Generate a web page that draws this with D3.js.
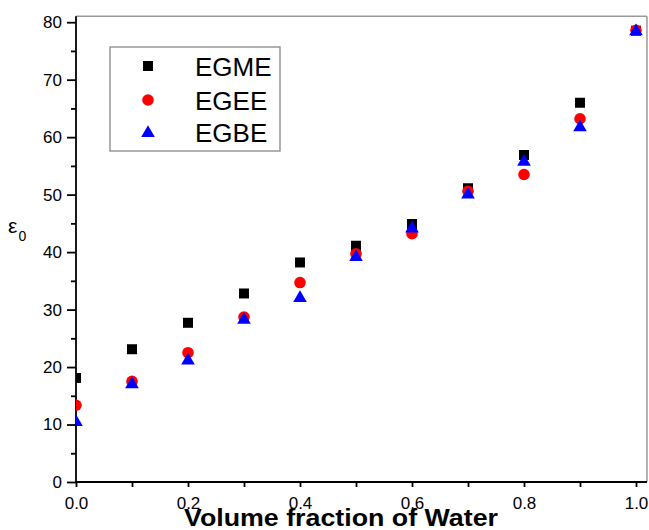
<!DOCTYPE html>
<html><head><meta charset="utf-8">
<script src="https://cdn.jsdelivr.net/npm/d3@7"></script>
<style>body{margin:0;background:#fff}svg{display:block}</style>
</head><body>
<svg id="c" width="649" height="530"></svg>
<script>
const fractions = [0, 0.1, 0.2, 0.3, 0.4, 0.5, 0.6, 0.7, 0.8, 0.9, 1.0];
const egme = [18.1, 23.1, 27.7, 32.8, 38.2, 41.1, 44.9, 51.1, 56.9, 66.0, 78.5];
const egee = [13.35, 17.5, 22.5, 28.7, 34.7, 39.7, 43.2, 50.6, 53.5, 63.2, 78.6];
const egbe = [10.6, 17.2, 21.3, 28.4, 32.2, 39.3, 44.3, 50.2, 55.9, 61.9, 78.6];
const xTicks = [0, 0.2, 0.4, 0.6, 0.8, 1.0];
const xMinor = [0.1, 0.3, 0.5, 0.7, 0.9];
const yTicks = [0, 10, 20, 30, 40, 50, 60, 70, 80];
const yMinor = [5, 15, 25, 35, 45, 55, 65, 75];
const seriesNames = ["EGME", "EGEE", "EGBE"];

const svg = d3.select("#c");
const x = d3.scaleLinear().domain([0, 1]).range([76, 636]);
const y = d3.scaleLinear().domain([0, 80]).range([482, 22.2]);
const xMax = 1.0196, yMax = 81.05;
const font = "'Liberation Sans', Arial, sans-serif";

svg.append("clipPath").attr("id","clip").append("rect")
  .attr("x", x(0)).attr("y", y(yMax)).attr("width", x(xMax)-x(0)).attr("height", y(0)-y(yMax));

svg.append("line").attr("x1", x(0)).attr("x2", x(xMax)).attr("y1", y(yMax)).attr("y2", y(yMax))
  .attr("stroke", "#999").attr("stroke-width", 1.5);
svg.append("line").attr("x1", x(xMax)).attr("x2", x(xMax)).attr("y1", y(yMax)).attr("y2", y(0))
  .attr("stroke", "#999").attr("stroke-width", 1.5);

function styleAxis(g){ g.selectAll("path,line").attr("stroke","#000").attr("stroke-width",1.8);
  g.selectAll("text").attr("fill","#000").style("font-family",font).style("font-size","17px"); }

const gy = svg.append("g").attr("transform", `translate(${x(0)},0)`)
  .call(d3.axisLeft(y).tickValues(yTicks).tickFormat(d3.format("d")).tickSize(9).tickPadding(5).tickSizeOuter(0));
gy.select(".domain").attr("d", `M0,${y(0)}V${y(yMax)}`);
styleAxis(gy);
const gym = svg.append("g").attr("transform", `translate(${x(0)},0)`)
  .call(d3.axisLeft(y).tickValues(yMinor).tickFormat("").tickSize(5).tickSizeOuter(0));
gym.select(".domain").remove();
styleAxis(gym);

const gx = svg.append("g").attr("transform", `translate(0,${y(0)})`)
  .call(d3.axisBottom(x).tickValues(xTicks).tickFormat(d3.format(".1f")).tickSize(5).tickPadding(10).tickSizeOuter(0));
gx.select(".domain").attr("d", `M${x(0)},0H${x(xMax)}`);
styleAxis(gx);
const gxm = svg.append("g").attr("transform", `translate(0,${y(0)})`)
  .call(d3.axisBottom(x).tickValues(xMinor).tickFormat("").tickSize(5).tickSizeOuter(0));
gxm.select(".domain").remove();
styleAxis(gxm);

const sq = d3.symbol().type(d3.symbolSquare).size(100);
const tri = "M0,-6.8L6.8,5L-6.8,5Z";
const plot = svg.append("g").attr("clip-path","url(#clip)");
function drawSeries(vals, kind){
  const g = plot.append("g");
  vals.forEach((v,i)=>{
    const t = `translate(${x(fractions[i])},${y(v)})`;
    if(kind===0) g.append("path").attr("d", sq()).attr("transform", t).attr("fill","#000");
    else if(kind===1) g.append("circle").attr("cx", x(fractions[i])).attr("cy", y(v)).attr("r",5.8).attr("fill","#ff0000");
    else g.append("path").attr("d", tri).attr("transform", t).attr("fill","#0000ff");
  });
}
drawSeries(egme,0); drawSeries(egee,1); drawSeries(egbe,2);

const lg = svg.append("g");
lg.append("rect").attr("x",110).attr("y",47).attr("width",170).attr("height",104)
  .attr("fill","#fff").attr("stroke","#888").attr("stroke-width",1.3);
const rows = [66, 100, 132];
seriesNames.forEach((n,i)=>{
  const t = `translate(148,${rows[i]})`;
  if(i===0) lg.append("path").attr("d", sq()).attr("transform", t).attr("fill","#000");
  else if(i===1) lg.append("circle").attr("cx",148).attr("cy",rows[i]).attr("r",5.8).attr("fill","#ff0000");
  else lg.append("path").attr("d", tri).attr("transform", t).attr("fill","#0000ff");
  lg.append("text").attr("x",195).attr("y",rows[i]+9.5).text(n)
    .style("font-family",font).style("font-size","26px").attr("fill","#000");
});

svg.append("text").attr("x",341).attr("y",526).attr("text-anchor","middle")
  .attr("textLength",314).attr("lengthAdjust","spacingAndGlyphs")
  .style("font-family",font).style("font-weight","bold").style("font-size","23px").text("Volume fraction of Water");
const yl = svg.append("text").attr("x",8).attr("y",233).style("font-family",font).attr("fill","#000");
yl.append("tspan").style("font-size","21px").text("ε");
yl.append("tspan").attr("dy",8).attr("dx",1).style("font-size","14px").text("0");
</script>
</body></html>
